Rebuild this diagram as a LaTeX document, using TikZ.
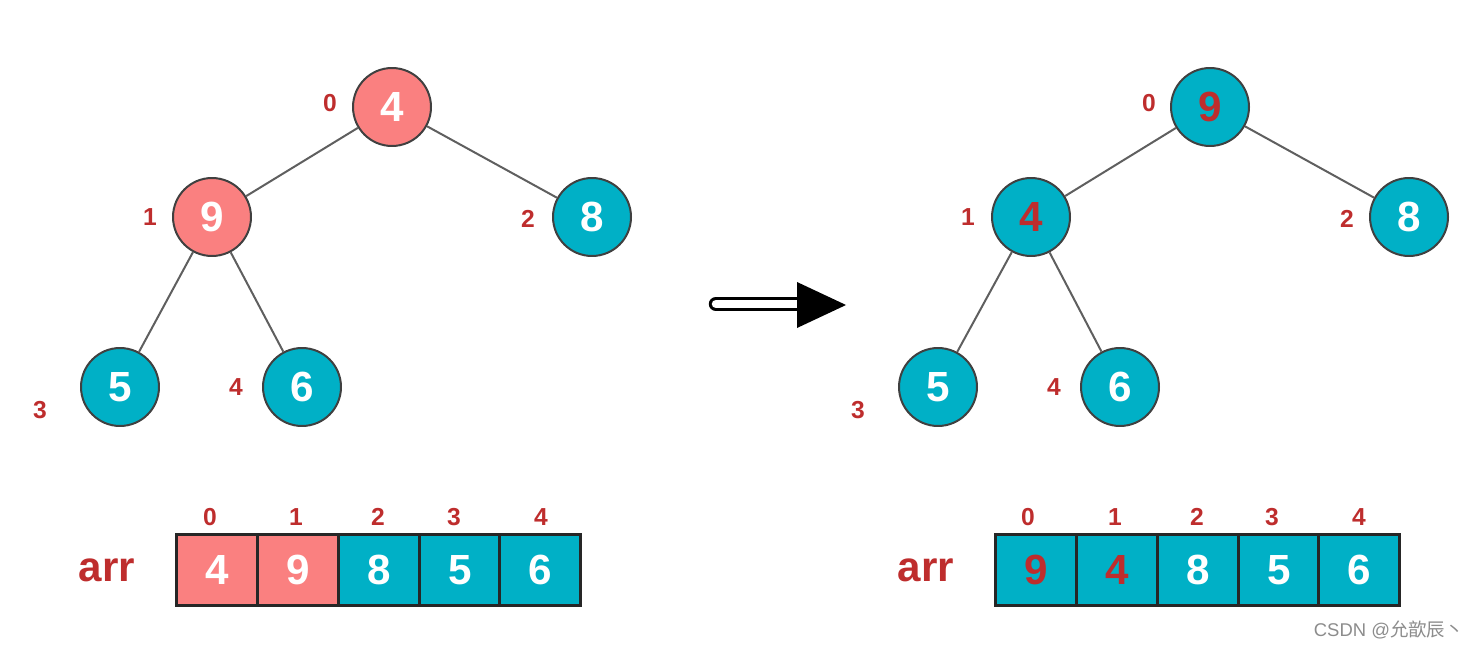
\documentclass[tikz,border=0pt]{standalone}
\usepackage{fontspec}
\setmainfont{Liberation Sans}
\newfontfamily\cjkfont{Noto Sans CJK SC}
\definecolor{heapred}{RGB}{250,128,128}
\definecolor{heapteal}{RGB}{0,176,198}
\definecolor{idxred}{RGB}{190,45,45}
\definecolor{edgegray}{RGB}{95,95,95}
\tikzset{
  key/.style={draw=black!75,circle,line width=0.04cm,minimum size=1.56cm,inner sep=0pt,
    font=\fontsize{24}{24}\selectfont\bfseries,text=white},
  cell/.style={draw=black!85,rectangle,line width=0.05cm,minimum width=1.62cm,minimum height=1.42cm,
    inner sep=0pt,font=\fontsize{24}{24}\selectfont\bfseries,text=white},
  idx/.style={font=\fontsize{14}{14}\selectfont\bfseries,text=idxred},
  edge/.style={draw=edgegray,line width=0.04cm}
}
\begin{document}
\begin{tikzpicture}[x=0.02cm,y=-0.02cm]
\useasboundingbox (0,0) rectangle (1483,648);
% before: 4 at the root
\node[key,fill=heapred] (l0) at (392,107) {4};
\node[key,fill=heapred] (l1) at (212,217) {9};
\node[key,fill=heapteal] (l2) at (592,217) {8};
\node[key,fill=heapteal] (l3) at (120,387) {5};
\node[key,fill=heapteal] (l4) at (302,387) {6};
\draw[edge] (l0) -- (l1);
\draw[edge] (l0) -- (l2);
\draw[edge] (l1) -- (l3);
\draw[edge] (l1) -- (l4);
\node[idx] (ll0) at (330,103) {0};
\node[idx] (ll1) at (150,217) {1};
\node[idx] (ll2) at (528,219) {2};
\node[idx] (ll3) at (40,410) {3};
\node[idx] (ll4) at (236,387) {4};
% after: 9 swapped up
\node[key,fill=heapteal,text=idxred] (r0) at (1210,107) {9};
\node[key,fill=heapteal,text=idxred] (r1) at (1031,217) {4};
\node[key,fill=heapteal] (r2) at (1409,217) {8};
\node[key,fill=heapteal] (r3) at (938,387) {5};
\node[key,fill=heapteal] (r4) at (1120,387) {6};
\draw[edge] (r0) -- (r1);
\draw[edge] (r0) -- (r2);
\draw[edge] (r1) -- (r3);
\draw[edge] (r1) -- (r4);
\node[idx] (rl0) at (1149,103) {0};
\node[idx] (rl1) at (968,217) {1};
\node[idx] (rl2) at (1347,219) {2};
\node[idx] (rl3) at (858,410) {3};
\node[idx] (rl4) at (1054,387) {4};
% arrays
\node[font=\fontsize{24}{24}\selectfont\bfseries,text=idxred] (larr) at (107,570) {arr};
\node[cell,fill=heapred] (la0) at (217,570) {4};
\node[cell,fill=heapred] (la1) at (298,570) {9};
\node[cell,fill=heapteal] (la2) at (379,570) {8};
\node[cell,fill=heapteal] (la3) at (460,570) {5};
\node[cell,fill=heapteal] (la4) at (540,570) {6};
\node[idx] (li0) at (210,517) {0};
\node[idx] (li1) at (296,517) {1};
\node[idx] (li2) at (378,517) {2};
\node[idx] (li3) at (454,517) {3};
\node[idx] (li4) at (541,517) {4};
\node[font=\fontsize{24}{24}\selectfont\bfseries,text=idxred] (rarr) at (926,570) {arr};
\node[cell,fill=heapteal,text=idxred] (ra0) at (1036,570) {9};
\node[cell,fill=heapteal,text=idxred] (ra1) at (1117,570) {4};
\node[cell,fill=heapteal] (ra2) at (1198,570) {8};
\node[cell,fill=heapteal] (ra3) at (1279,570) {5};
\node[cell,fill=heapteal] (ra4) at (1359,570) {6};
\node[idx] (ri0) at (1028,517) {0};
\node[idx] (ri1) at (1115,517) {1};
\node[idx] (ri2) at (1197,517) {2};
\node[idx] (ri3) at (1272,517) {3};
\node[idx] (ri4) at (1359,517) {4};
% big arrow
\coordinate (a0) at (716,304);
\coordinate (a1) at (805,304);
\draw[line width=0.06cm,double=white,double distance=0.17cm,line cap=round] (a0) -- (a1);
\fill (797,282) -- (846,305) -- (797,328) -- cycle;
\node[anchor=east,text=black!45,font=\fontsize{10.5}{10.5}\selectfont] (mark) at (1470,630) {CSDN @{\cjkfont 允歆辰丶}};
\end{tikzpicture}
\end{document}
